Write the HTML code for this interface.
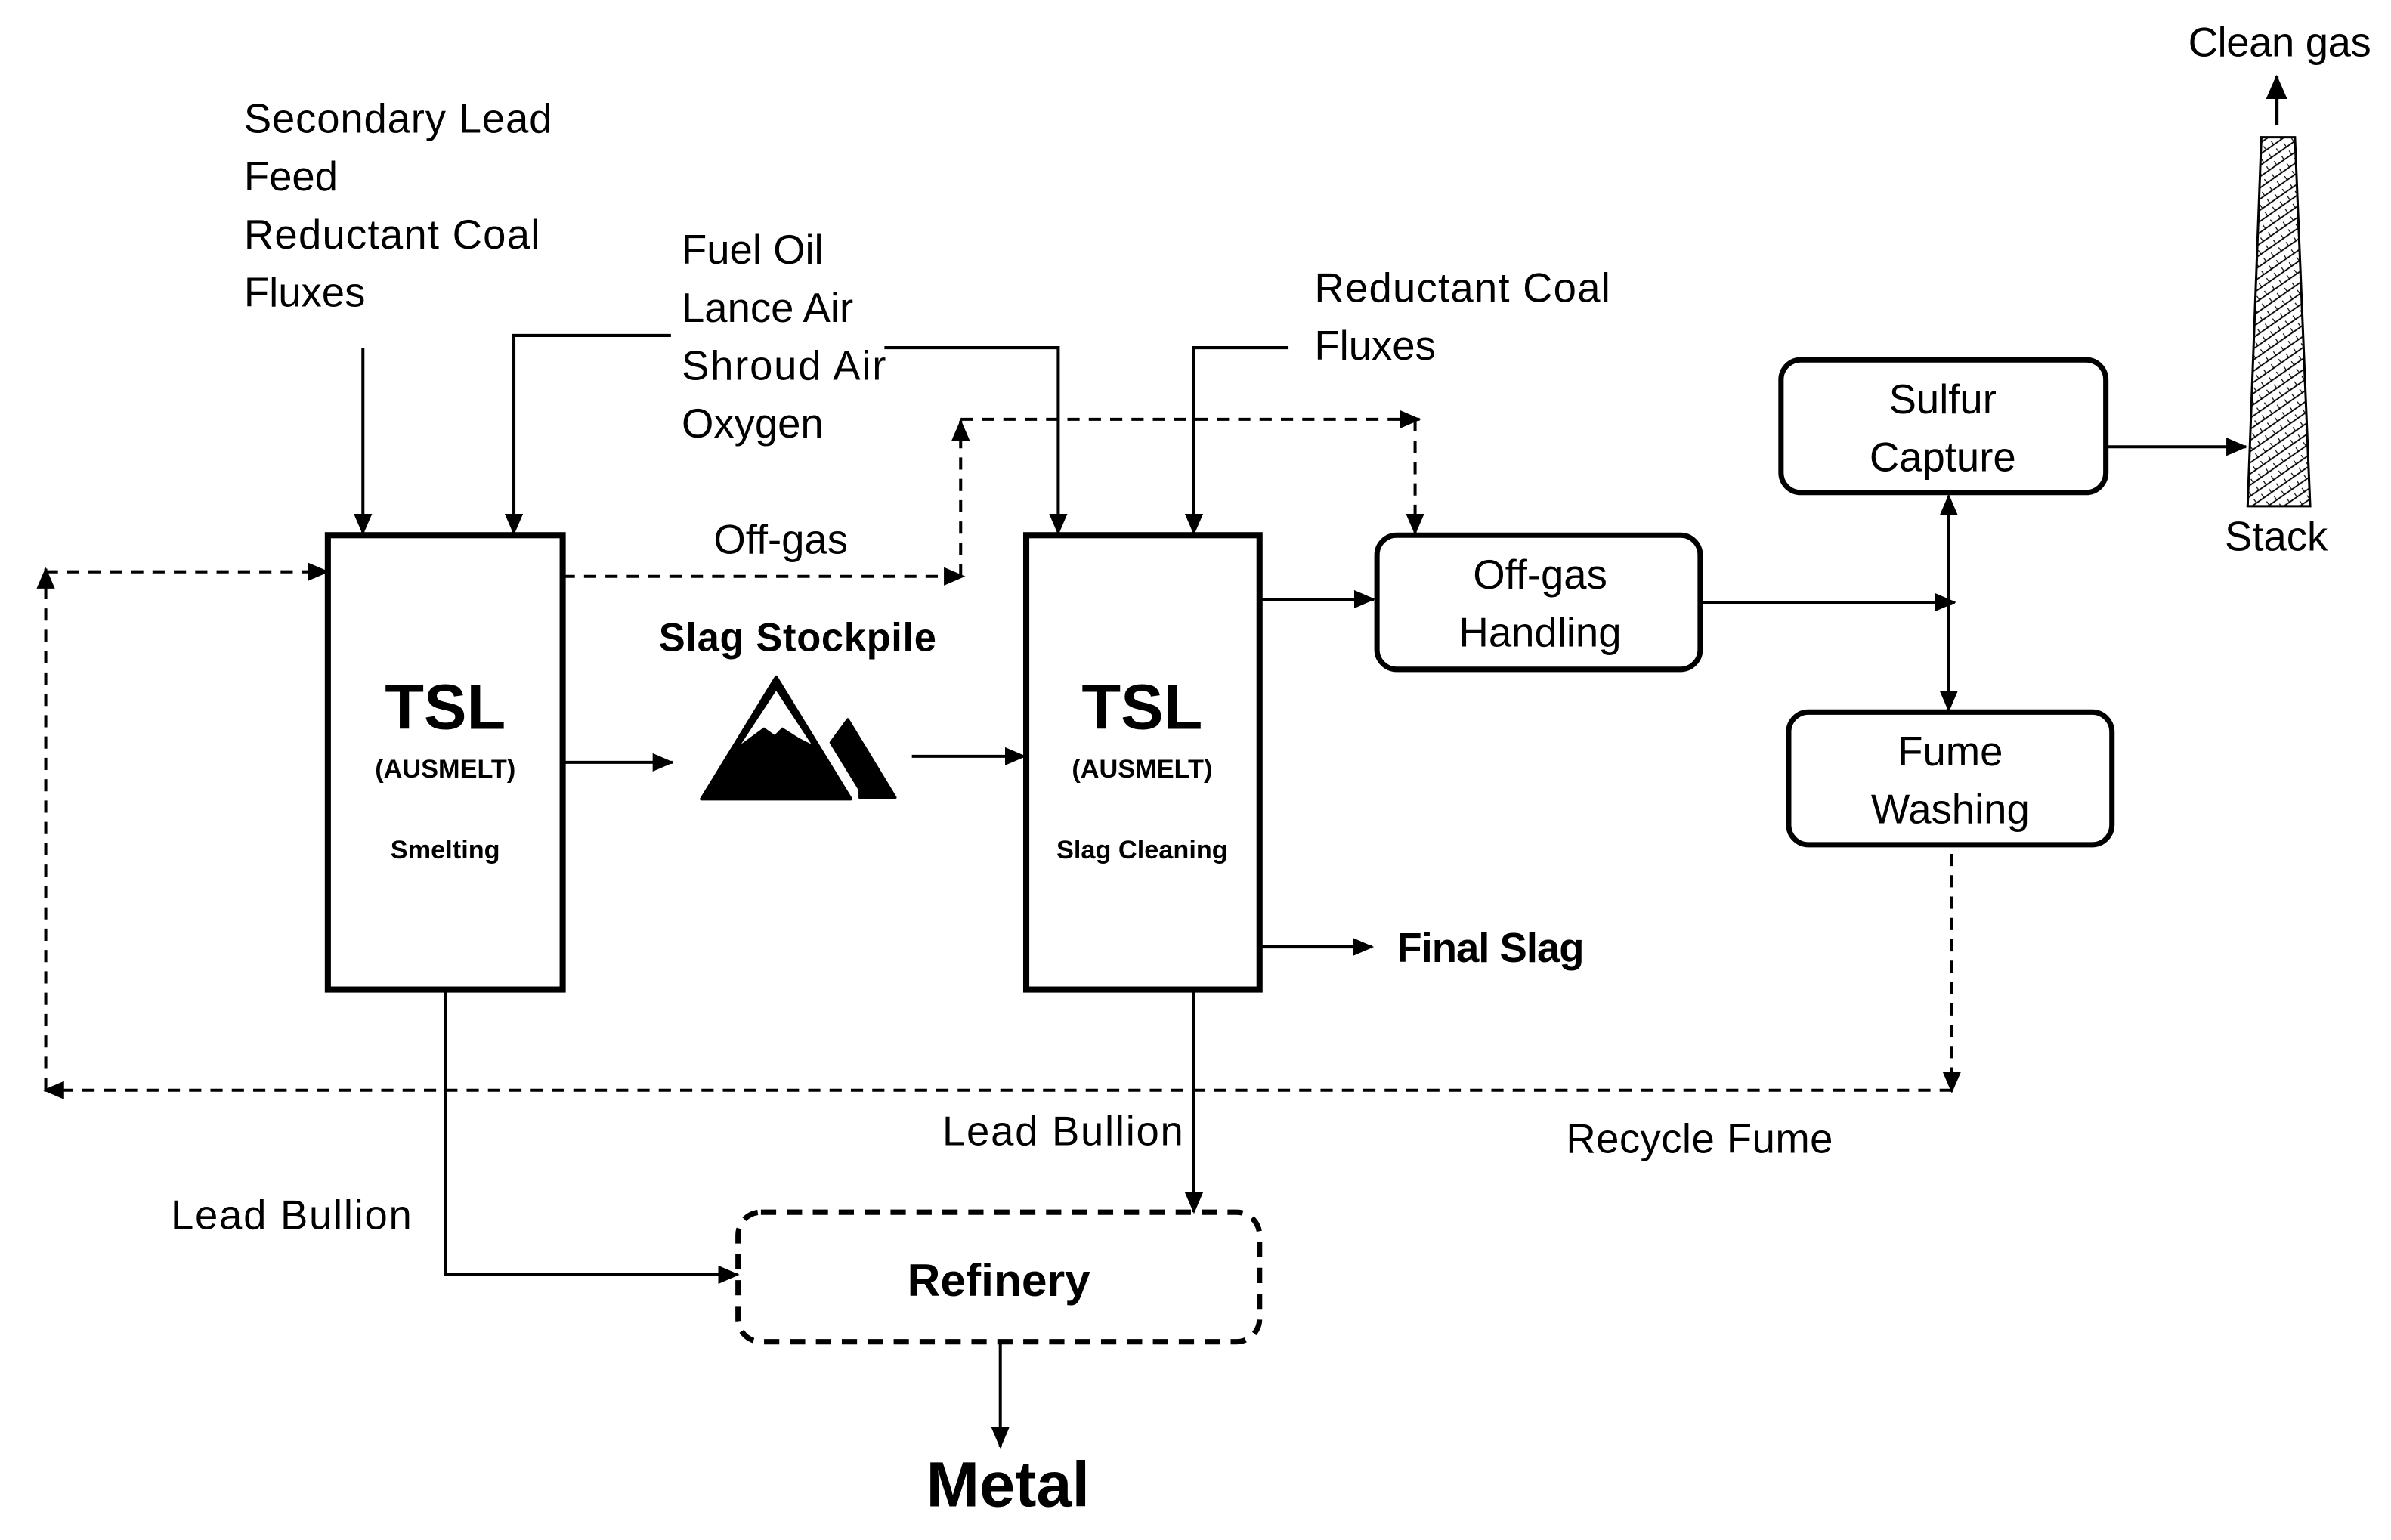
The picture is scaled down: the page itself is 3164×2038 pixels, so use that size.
<!DOCTYPE html>
<html><head><meta charset="utf-8"><style>
html,body{margin:0;padding:0;background:#fff}
svg{display:block}
text{font-family:"Liberation Sans",sans-serif;fill:#000}
</style></head><body>
<svg width="3164" height="2038" viewBox="0 0 1568 1010" xmlns="http://www.w3.org/2000/svg">
<defs>
<marker id="a" markerWidth="14" markerHeight="12" refX="13" refY="6" orient="auto" markerUnits="userSpaceOnUse"><path d="M0,0 L14,6 L0,12 z" fill="#000"/></marker>
<marker id="b" markerWidth="16" markerHeight="14" refX="15" refY="7" orient="auto" markerUnits="userSpaceOnUse"><path d="M0,0 L16,7 L0,14 z" fill="#000"/></marker>
<pattern id="h" width="6" height="6" patternUnits="userSpaceOnUse" patternTransform="rotate(-35)"><line x1="0" y1="3" x2="6" y2="3" stroke="#000" stroke-width="0.9"/><line x1="3" y1="0" x2="3" y2="3" stroke="#000" stroke-width="0.6"/></pattern>
</defs>
<g font-size="27">
<text x="160" y="87" textLength="202">Secondary Lead</text>
<text x="160" y="125">Feed</text>
<text x="160" y="163" textLength="194">Reductant Coal</text>
<text x="160" y="201">Fluxes</text>
<text x="447" y="173">Fuel Oil</text>
<text x="447" y="211">Lance Air</text>
<text x="447" y="249" textLength="134">Shroud Air</text>
<text x="447" y="287">Oxygen</text>
<text x="862" y="198" textLength="194">Reductant Coal</text>
<text x="862" y="236">Fluxes</text>
<text x="468" y="363">Off-gas</text>
<text x="1435" y="37" textLength="120">Clean gas</text>
<text x="1459" y="361">Stack</text>
<text x="1027" y="756" textLength="175">Recycle Fume</text>
<text x="112" y="806" textLength="158">Lead Bullion</text>
<text x="618" y="751" textLength="158">Lead Bullion</text>
<text x="1010" y="386" text-anchor="middle">Off-gas</text>
<text x="1010" y="424" text-anchor="middle">Handling</text>
<text x="1274" y="271" text-anchor="middle">Sulfur</text>
<text x="1274" y="309" text-anchor="middle">Capture</text>
<text x="1279" y="502" text-anchor="middle">Fume</text>
<text x="1279" y="540" text-anchor="middle">Washing</text>
</g>
<g font-weight="bold">
<text x="432" y="427" font-size="26" textLength="182">Slag Stockpile</text>
<text x="916" y="631" font-size="27" textLength="123">Final Slag</text>
<text x="655" y="850" font-size="30" text-anchor="middle">Refinery</text>
<text x="661" y="988" font-size="42" text-anchor="middle">Metal</text>
<text x="292" y="478" font-size="42" text-anchor="middle">TSL</text>
<text x="292" y="510" font-size="17" text-anchor="middle">(AUSMELT)</text>
<text x="292" y="563" font-size="17" text-anchor="middle">Smelting</text>
<text x="749" y="478" font-size="42" text-anchor="middle">TSL</text>
<text x="749" y="510" font-size="17" text-anchor="middle">(AUSMELT)</text>
<text x="749" y="563" font-size="17" text-anchor="middle">Slag Cleaning</text>
</g>
<g fill="none" stroke="#000" stroke-width="4">
<rect x="215" y="351" width="154" height="298"/>
<rect x="673" y="351" width="153" height="298"/>
</g>
<g fill="none" stroke="#000" stroke-width="3.5">
<rect x="903" y="351" width="212" height="88" rx="13"/>
<rect x="1168" y="236" width="213" height="87" rx="13"/>
<rect x="1173" y="467" width="212" height="87" rx="13"/>
<rect x="484" y="795" width="342" height="85" rx="15" stroke-dasharray="10,7"/>
</g>
<g fill="none" stroke="#000" stroke-width="2">
<line x1="238" y1="228" x2="238" y2="350" marker-end="url(#a)"/>
<polyline points="440,220 337,220 337,350" marker-end="url(#a)"/>
<polyline points="580,228 694,228 694,350" marker-end="url(#a)"/>
<polyline points="845,228 783,228 783,350" marker-end="url(#a)"/>
<line x1="369" y1="500" x2="441" y2="500" marker-end="url(#a)"/>
<line x1="598" y1="496" x2="672" y2="496" marker-end="url(#a)"/>
<line x1="826" y1="393" x2="901" y2="393" marker-end="url(#a)"/>
<line x1="826" y1="621" x2="900" y2="621" marker-end="url(#a)"/>
<line x1="1115" y1="395" x2="1282" y2="395" marker-end="url(#a)"/>
<line x1="1278" y1="395" x2="1278" y2="325" marker-end="url(#a)"/>
<line x1="1278" y1="395" x2="1278" y2="466" marker-end="url(#a)"/>
<line x1="1381" y1="293" x2="1473" y2="293" marker-end="url(#a)"/>
<line x1="1493" y1="82" x2="1493" y2="50" stroke-width="2.5" marker-end="url(#b)"/>
<polyline points="292,649 292,836 484,836" marker-end="url(#a)"/>
<line x1="783" y1="649" x2="783" y2="795" marker-end="url(#a)"/>
<line x1="656" y1="880" x2="656" y2="949" marker-end="url(#a)"/>
</g>
<g fill="none" stroke="#000" stroke-width="2" stroke-dasharray="8,6">
<line x1="369" y1="378" x2="632" y2="378" marker-end="url(#a)"/>
<line x1="630" y1="378" x2="630" y2="276" marker-end="url(#a)"/>
<line x1="630" y1="275" x2="931" y2="275" marker-end="url(#a)"/>
<line x1="928" y1="275" x2="928" y2="350" marker-end="url(#a)"/>
<line x1="1280" y1="560" x2="1280" y2="716" marker-end="url(#a)"/>
<line x1="1280" y1="715" x2="29" y2="715" marker-end="url(#a)"/>
<line x1="30" y1="715" x2="30" y2="373" marker-end="url(#a)"/>
<line x1="30" y1="375" x2="215" y2="375" marker-end="url(#a)"/>
</g>
<polygon points="1483,90 1505,90 1515,332 1474,332" fill="url(#h)" stroke="#000" stroke-width="1.5"/>
<polygon points="509,444 558,524 460,524" fill="#000" stroke="#000" stroke-width="2" stroke-linejoin="round"/>
<polygon points="509,453 532,488 524,484 513,477 508,482 501,477 486,488" fill="#fff"/>
<polygon points="556,472 587,523 564,523 564,518 545,487" fill="#000" stroke="#000" stroke-width="2" stroke-linejoin="round"/>
</svg>
</body></html>
